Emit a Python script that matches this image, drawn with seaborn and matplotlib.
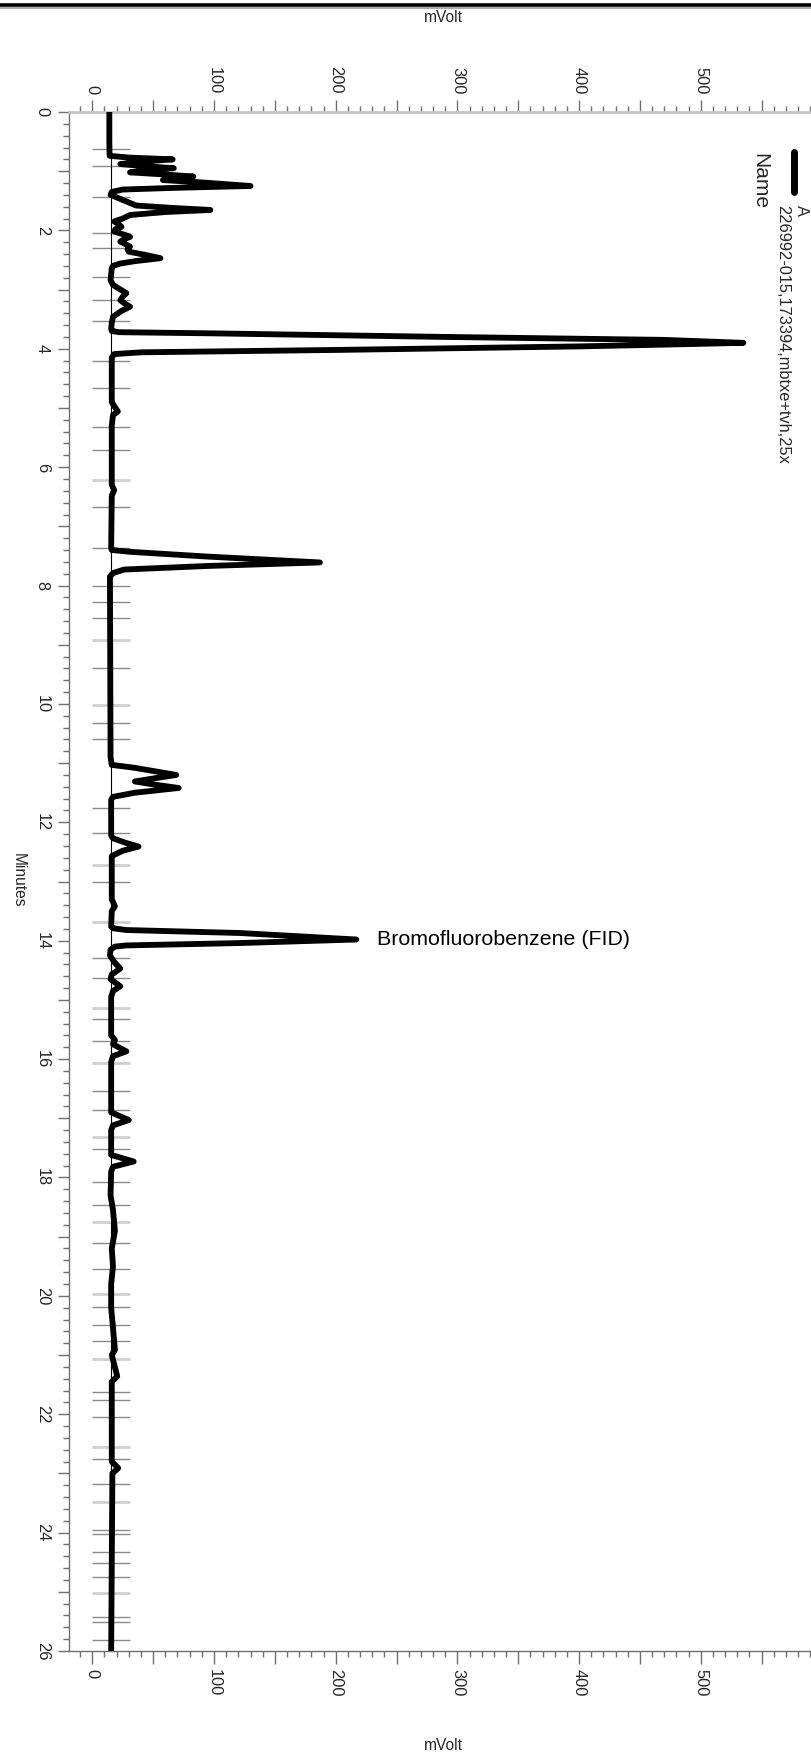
import matplotlib
matplotlib.use("Agg")
import matplotlib.pyplot as plt
from matplotlib.lines import Line2D
from matplotlib.ticker import MultipleLocator, FuncFormatter
import seaborn as sns
import pandas as pd

# ---- data ----
time_min = [0.00, 0.50, 0.74, 0.77, 0.80, 0.84, 0.88, 0.91, 0.95, 0.98, 1.02, 1.05, 1.09, 1.12, 1.15, 1.19,
            1.25, 1.28, 1.31, 1.35, 1.40, 1.46, 1.52, 1.58, 1.62, 1.655, 1.69, 1.74, 1.80, 1.85, 1.90,
            1.94, 1.98, 2.02, 2.07, 2.11, 2.15, 2.19, 2.23, 2.275, 2.32, 2.36, 2.42, 2.47, 2.52, 2.56,
            2.60, 2.64, 2.84, 2.92, 2.98, 3.06, 3.12, 3.18, 3.24, 3.29, 3.36, 3.46, 3.56, 3.66, 3.70,
            3.72, 3.74, 3.80, 3.85, 3.90, 3.93, 3.96, 4.02, 4.06, 4.09, 4.15, 4.90, 5.00, 5.06, 5.12,
            5.30, 6.30, 6.39, 6.48, 7.36, 7.40, 7.43, 7.51, 7.61, 7.67, 7.73, 7.79, 7.85, 10.90, 11.03,
            11.08, 11.20, 11.26, 11.31, 11.36, 11.42, 11.50, 11.57, 11.62, 12.22, 12.27, 12.35, 12.41,
            12.48, 12.57, 13.30, 13.42, 13.50, 13.76, 13.79, 13.82, 13.87, 13.98, 14.04, 14.08, 14.10,
            14.15, 14.25, 14.36, 14.47, 14.57, 14.65, 14.77, 14.85, 14.95, 15.60, 15.68, 15.75, 15.87,
            15.95, 16.05, 16.90, 17.03, 17.12, 17.20, 17.62, 17.73, 17.82, 17.90, 18.30, 18.55, 18.90,
            19.20, 19.50, 19.80, 20.20, 20.91, 21.00, 21.36, 21.45, 22.80, 22.91, 23.00, 26.00]
signal_mv = [14.0, 14.0, 14.2, 30, 66, 40, 23, 40, 67, 45, 31, 55, 83, 65, 58, 90,
             130, 70, 25, 16, 15, 22, 29, 36, 65, 97, 60, 31, 25, 18, 22,
             24, 19, 18, 26, 31, 26, 23, 27, 31, 29, 30, 45, 56, 35, 23,
             17, 16, 15, 17, 21.5, 28, 25, 23, 27, 31, 24, 17, 16, 15.5, 16,
             22, 100, 290, 470, 535, 470, 400, 200, 40, 18, 16, 16, 19, 21, 17,
             16, 16, 18, 16, 15.5, 16, 31, 94, 187, 94, 26, 17, 14.5, 15, 16,
             35, 69, 50, 35, 50, 71, 35, 17, 15.5, 15.5, 17, 28, 38,
             25, 16, 16, 18.6, 16, 15.5, 17, 28, 121, 217, 121, 28, 18.6,
             15, 14.5, 18, 23, 16, 15, 23, 17, 15.5, 15.5, 18.6, 17, 28,
             17, 15.5, 15.5, 30, 17, 15.5, 15.5, 34, 17, 15.5, 15, 17, 18.6,
             16, 17, 15.5, 15.5, 18.6, 16, 20.5, 16, 16, 21.3, 16.5, 15.5]

marker_times_dark = [0.63, 0.92, 1.44, 2.05, 2.29, 2.79, 3.18, 3.53, 4.20, 4.66, 5.32, 5.71, 6.68,
                     7.36, 8.00, 8.27, 8.55, 9.40, 10.33, 10.60, 11.75, 12.18, 13.00, 14.30, 14.63,
                     15.33, 15.69, 16.54, 16.86, 17.52, 18.08, 18.46, 19.11, 19.54, 20.19, 20.49,
                     20.76, 21.63, 21.76, 22.05, 22.75, 23.18, 23.96, 24.02, 24.32, 24.52, 24.75,
                     25.42, 25.51, 25.81]
marker_times_light = [6.22, 8.92, 10.02, 12.72, 13.68, 15.14, 16.06, 17.31, 18.76, 19.97, 21.06,
                      22.56, 23.49, 25.02]

baseline_mv = 15.5
baseline_span = [0.75, 26.0]

peak_labels = ["Bromofluorobenzene (FID)"]
peak_label_time = [13.98]
peak_label_mv = [234]

series_name = "A"
series_desc = "226992-015,173394,mbtxe+tvh,25x"

x_ticks_mv = [0, 100, 200, 300, 400, 500]
y_ticks_min = [0, 2, 4, 6, 8, 10, 12, 14, 16, 18, 20, 22, 24, 26]

# ---- figure ----
sns.set_theme(style="white")
plt.rcParams["font.family"] = ["Liberation Sans", "DejaVu Sans"]

W, H = 812, 1754
fig = plt.figure(figsize=(W / 100, H / 100), dpi=100)
ax = fig.add_axes([69.3 / W, 1 - 1651 / H, (W - 69.3) / W, (1651 - 112) / H])

df = pd.DataFrame({"t": time_min, "mv": signal_mv})

# peak start/stop markers
ax.hlines(marker_times_dark, 0, 31, color="#8a8a8a", lw=1.0, zorder=1)
ax.hlines(marker_times_light, 0, 31, color="#cfcfcf", lw=2.0, zorder=1)
# integration baseline
ax.vlines(baseline_mv, baseline_span[0], baseline_span[1], color="black", lw=0.8, zorder=2)

sns.lineplot(data=df, x="mv", y="t", orient="y", sort=False, estimator=None,
             color="black", lw=4.2, ax=ax, zorder=3)
for ln in ax.lines:
    ln.set_solid_joinstyle("round")
    ln.set_solid_capstyle("round")

for lab, t, mv in zip(peak_labels, peak_label_time, peak_label_mv):
    ax.text(mv, t, lab, ha="left", va="center", fontsize=15.4, color="black")

ax.set_xlim(-18.9, 591.4)
ax.set_ylim(26, 0)
ax.set_xlabel("")
ax.set_ylabel("")

# x axis (mVolt): ticks on top and bottom
ax.xaxis.set_major_locator(MultipleLocator(50))
ax.xaxis.set_minor_locator(MultipleLocator(10))
ax.xaxis.set_major_formatter(FuncFormatter(lambda v, p: f"{int(round(v))}" if int(round(v)) in x_ticks_mv else ""))
ax.yaxis.set_major_locator(MultipleLocator(1))
ax.yaxis.set_minor_locator(MultipleLocator(0.2))
ax.yaxis.set_major_formatter(FuncFormatter(lambda v, p: f"{int(round(v))}" if int(round(v)) in y_ticks_min and abs(v - round(v)) < 1e-6 else ""))

ax.tick_params(axis="x", which="both", top=True, bottom=True, labeltop=True, labelbottom=True,
               direction="out", color="#707070", width=1.0)
ax.tick_params(axis="x", which="major", length=9, pad=4, labelsize=11.8, labelrotation=-90)
ax.tick_params(axis="x", which="minor", length=4)
ax.tick_params(axis="y", which="both", left=True, right=False, direction="out", color="#707070", width=1.0)
ax.tick_params(axis="y", which="major", length=7.6, pad=6.5, labelsize=11.8, labelrotation=-90)
ax.tick_params(axis="y", which="minor", length=4.3)
for lbl in ax.get_yticklabels():
    lbl.set_va("center")

ax.spines["right"].set_visible(False)
ax.spines["top"].set_color("#c4c4c4")
ax.spines["top"].set_linewidth(2.0)
ax.spines["left"].set_color("#707070")
ax.spines["left"].set_linewidth(1.0)
ax.spines["bottom"].set_color("#707070")
ax.spines["bottom"].set_linewidth(1.0)
ax.grid(False)

# axis titles
fig.text(443 / W, 1 - 18 / H, "mVolt", ha="center", va="center", fontsize=11.2)
fig.text(443 / W, 1 - 1745 / H, "mVolt", ha="center", va="center", fontsize=11.2)
fig.text(18 / W, 1 - 853 / H, "Minutes", ha="center", va="top", rotation=-90, fontsize=11.2)

# top rule
fig.add_artist(Line2D([0, 1], [1 - 4.5 / H] * 2, color="black", lw=2.6))
fig.add_artist(Line2D([0, 1], [1 - 8 / H] * 2, color="#9a9a9a", lw=1.2))

# legend (rotated)
fig.add_artist(Line2D([794 / W, 794 / W], [1 - 152 / H, 1 - 192 / H], color="black", lw=5,
                      solid_capstyle="round"))
fig.text(801 / W, 1 - 205 / H, series_name, ha="center", va="top", rotation=-90, fontsize=11.8)
fig.text(783 / W, 1 - 205 / H, series_desc, ha="center", va="top", rotation=-90, fontsize=11.8)
fig.text(760 / W, 1 - 153 / H, "Name", ha="center", va="top", rotation=-90, fontsize=15)

fig.savefig("out.png", dpi=100)
